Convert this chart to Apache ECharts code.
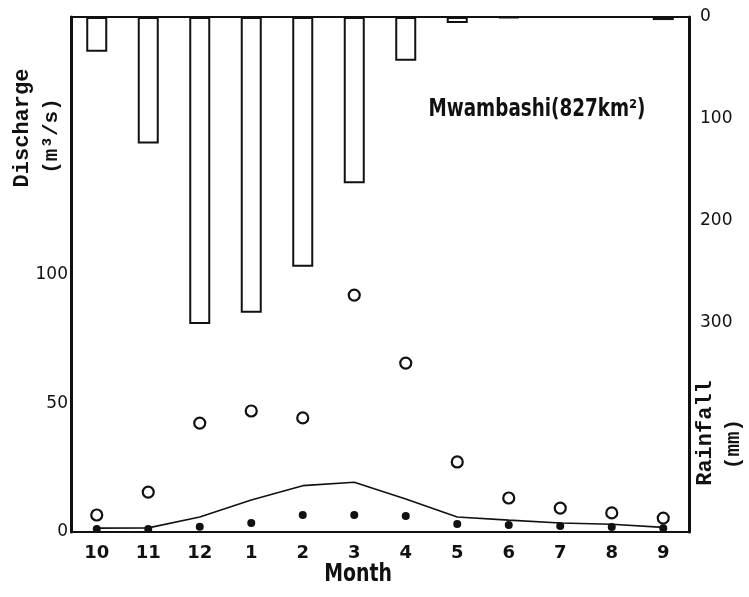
<!DOCTYPE html>
<html>
<head>
<meta charset="utf-8">
<script src="https://cdn.jsdelivr.net/npm/echarts@6/dist/echarts.min.js"></script>
<style>
  html, body { margin: 0; padding: 0; background: #fff; }
  #chart { width: 749px; height: 597px; }
</style>
</head>
<body>
<div id="chart"></div>
<script>
// months of the hydrological year, Oct -> Sep
const months = ['10', '11', '12', '1', '2', '3', '4', '5', '6', '7', '8', '9'];
// monthly rainfall (mm), hanging bars on the inverted right axis
const rainfall = [34, 124, 301, 290, 245, 163, 43, 6, 1, 0, 0, 3];
// discharge (m3/s)
const maxDischarge = [6.6, 15.5, 42.3, 47, 44.3, 92, 65.6, 27.2, 13.2, 9.3, 7.4, 5.4];
const meanDischarge = [1.5, 1.6, 5.8, 12.4, 18, 19.3, 12.8, 5.8, 4.6, 3.5, 3, 1.8];
const minDischarge = [1.2, 1.2, 2, 3.5, 6.6, 6.6, 6.2, 3.1, 2.7, 2.3, 1.9, 1.5];

const ink = '#111';
const numFont = '"DejaVu Sans", sans-serif';
const narrowFont = '"Liberation Sans Narrow", "DejaVu Sans Condensed", sans-serif';
const monoFont = '"Liberation Mono", "DejaVu Sans Mono", monospace';

let chart = echarts.init(document.getElementById('chart'));

let opt = {
  backgroundColor: '#fff',
  animation: false,
  grid: { left: 71, right: 60, top: 17, bottom: 65 },
  xAxis: [
    {
      type: 'category',
      data: months,
      position: 'bottom',
      boundaryGap: true,
      axisLine: { lineStyle: { color: ink, width: 2 } },
      axisTick: { alignWithLabel: true, length: 6, lineStyle: { color: ink, width: 2 } },
      axisLabel: { color: ink, fontSize: 18, fontFamily: numFont, fontWeight: 'bold', margin: 12 }
    },
    {
      type: 'category',
      data: months,
      position: 'top',
      axisLine: { show: true, lineStyle: { color: ink, width: 2 } },
      axisTick: { show: false },
      axisLabel: { show: false }
    }
  ],
  yAxis: [
    {
      type: 'value',
      position: 'left',
      min: 0,
      max: 200,
      interval: 50,
      splitLine: { show: false },
      axisLine: { show: true, lineStyle: { color: ink, width: 3 } },
      axisTick: { show: false },
      axisLabel: {
        color: ink, fontSize: 17, fontFamily: numFont, margin: 3,
        formatter: v => (v <= 100 ? String(v) : '')
      }
    },
    {
      type: 'value',
      position: 'right',
      inverse: true,
      min: 0,
      max: 505,
      interval: 100,
      splitLine: { show: false },
      axisLine: { show: true, lineStyle: { color: ink, width: 3 } },
      axisTick: { show: false },
      axisLabel: {
        color: ink, fontSize: 17, fontFamily: numFont, margin: 11,
        formatter: v => (v <= 300 && v % 100 === 0 ? String(v) : '')
      }
    }
  ],
  graphic: [
    {
      type: 'text', x: 537, y: 110, scaleX: 0.85,
      style: { text: 'Mwambashi(827km²)', fill: ink, font: 'bold 24px ' + narrowFont,
               textAlign: 'center', textVerticalAlign: 'middle' }
    },
    {
      type: 'text', x: 22, y: 128, rotation: Math.PI / 2,
      style: { text: 'Discharge', fill: ink, font: 'bold 22px ' + monoFont,
               textAlign: 'center', textVerticalAlign: 'middle' }
    },
    {
      type: 'text', x: 52, y: 136, rotation: Math.PI / 2,
      style: { text: '(m³/s)', fill: ink, font: 'bold 21px ' + monoFont,
               textAlign: 'center', textVerticalAlign: 'middle' }
    },
    {
      type: 'text', x: 705, y: 433, rotation: Math.PI / 2,
      style: { text: 'Rainfall', fill: ink, font: 'bold 22px ' + monoFont,
               textAlign: 'center', textVerticalAlign: 'middle' }
    },
    {
      type: 'text', x: 734, y: 444, rotation: Math.PI / 2,
      style: { text: '(mm)', fill: ink, font: 'bold 21px ' + monoFont,
               textAlign: 'center', textVerticalAlign: 'middle' }
    },
    {
      type: 'text', x: 358, y: 574, scaleX: 0.84,
      style: { text: 'Month', fill: ink, font: 'bold 25px ' + narrowFont,
               textAlign: 'center', textVerticalAlign: 'middle' }
    }
  ],
  series: [
    {
      name: 'Rainfall',
      type: 'bar',
      xAxisIndex: 0,
      yAxisIndex: 1,
      data: rainfall,
      barWidth: 21,
      itemStyle: { color: '#fff', borderColor: ink, borderWidth: 2 },
      z: 2
    },
    {
      name: 'Mean',
      type: 'line',
      yAxisIndex: 0,
      data: meanDischarge,
      symbol: 'none',
      lineStyle: { color: ink, width: 1.6 },
      z: 3
    },
    {
      name: 'Max',
      type: 'scatter',
      yAxisIndex: 0,
      data: maxDischarge,
      symbol: 'circle',
      symbolSize: 11,
      itemStyle: { color: '#fff', borderColor: ink, borderWidth: 2.2, opacity: 1 },
      z: 4
    },
    {
      name: 'Min',
      type: 'scatter',
      yAxisIndex: 0,
      data: minDischarge,
      symbol: 'circle',
      symbolSize: 8,
      itemStyle: { color: ink, opacity: 1 },
      z: 4
    }
  ]
};
chart.setOption(opt);
</script>
</body>
</html>
